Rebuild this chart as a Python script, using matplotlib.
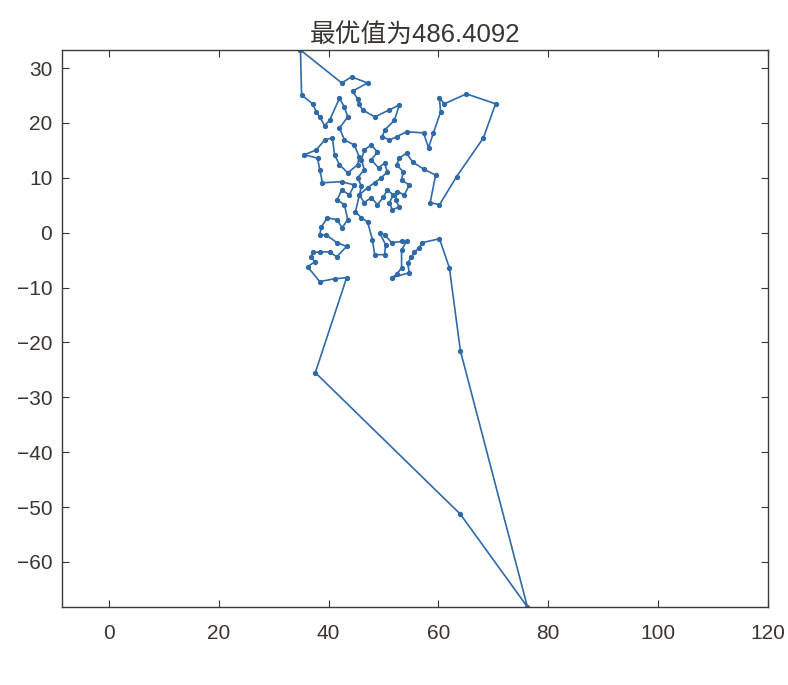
import numpy as np
import matplotlib.pyplot as plt

plt.rcParams['font.family'] = ['Liberation Sans', 'Noto Sans CJK SC', 'DejaVu Sans']
plt.rcParams['axes.unicode_minus'] = True

# best tour found, city coordinates in visiting order
tourX = [34.9, 42.4, 44.2, 47.1, 44.4, 45.3, 45.5, 46.2, 48.4, 51.1, 52.9, 52.0, 50.2, 49.8, 51.1,
         52.4, 54.2, 57.3, 58.2, 59.1, 60.4, 60.2, 61.1, 65.1, 70.4, 68.2, 63.3, 60.2, 58.5, 59.5,
         57.3, 55.3, 54.2, 52.9, 52.4, 53.6, 53.3, 54.7, 53.8, 52.5, 52.2, 52.9, 51.6, 51.1, 51.8,
         50.7, 50.0, 48.9, 47.8, 46.5, 45.6, 47.1, 48.4, 49.6, 50.7, 50.2, 49.1, 47.8, 48.9, 47.8,
         46.5, 46.0, 46.5, 45.3, 46.0, 44.9, 46.0, 47.1, 48.0, 48.4, 50.2, 50.4, 49.3, 50.2, 51.5,
         53.3, 54.2, 53.3, 53.3, 52.4, 51.5, 54.7, 54.4, 55.1, 55.6, 56.5, 57.1, 60.2, 62.0, 64.0,
         76.2, 64.0, 37.6, 43.3, 41.1, 38.4, 36.2, 37.5, 36.9, 37.1, 38.4, 40.2, 41.5, 43.3, 41.5,
         39.6, 38.4, 38.7, 39.8, 41.5, 42.5, 43.5, 42.9, 41.6, 42.4, 43.8, 44.7, 42.4, 38.9, 38.4,
         38.0, 35.6, 37.8, 39.3, 40.7, 41.1, 42.0, 43.5, 45.3, 45.6, 44.7, 42.9, 42.0, 43.5, 42.9,
         42.0, 40.2, 39.3, 38.4, 37.8, 37.1, 35.1]
tourY = [33.3, 27.3, 28.4, 27.3, 25.8, 24.4, 23.5, 22.4, 21.1, 22.4, 23.3, 20.5, 18.7, 17.5, 16.9,
         17.5, 18.4, 18.2, 15.5, 18.2, 22.0, 24.5, 23.5, 25.3, 23.5, 17.3, 10.2, 5.1, 5.5, 10.5,
         11.6, 12.9, 14.5, 13.6, 12.4, 11.1, 9.6, 8.7, 6.9, 7.5, 6.0, 4.7, 4.2, 5.5, 6.9,
         7.8, 6.5, 5.1, 6.4, 5.5, 6.9, 8.2, 9.1, 10.0, 11.1, 12.7, 11.8, 13.3, 14.7, 16.0,
         15.1, 13.3, 11.5, 10.0, 8.5, 3.8, 2.7, 2.0, -1.3, -4.0, -4.0, -2.2, 0.0, -0.4, -1.8,
         -1.6, -1.6, -3.1, -6.4, -7.6, -8.2, -7.3, -5.5, -4.5, -3.6, -2.7, -1.8, -1.1, -6.4, -21.5,
         -68.2, -51.3, -25.5, -8.2, -8.4, -8.9, -6.2, -5.3, -4.5, -3.6, -3.5, -3.5, -4.4, -2.5, -1.8,
         -0.4, -0.4, 1.1, 2.7, 2.4, 0.9, 2.4, 5.1, 6.0, 7.8, 6.9, 8.7, 9.3, 9.1, 11.5,
         13.6, 14.2, 15.1, 16.9, 17.3, 14.2, 12.4, 10.9, 12.4, 13.8, 16.0, 16.9, 19.1, 21.1, 22.9,
         24.5, 20.5, 19.5, 21.1, 22.0, 23.5, 25.1]
bestDistance = 486.4092

xTicks = [0, 20, 40, 60, 80, 100, 120]
yTicks = [-60, -50, -40, -30, -20, -10, 0, 10, 20, 30]

textColor = '#3b3530'

fig = plt.figure(figsize=(7.88, 6.85), dpi=100)
ax = fig.add_axes([0.0787, 0.114, 0.896, 0.813])

# close the loop back to the start city
x = np.append(tourX, tourX[0])
y = np.append(tourY, tourY[0])
ax.plot(x, y, color='#2f6aa8', linewidth=1.2, marker='o', markersize=2.8)

ax.set_xlim(-8.5, 120)
ax.set_ylim(min(tourY), max(tourY))
ax.set_xticks(xTicks)
ax.set_yticks(yTicks)
ax.tick_params(direction='in', top=True, right=True, length=5, labelsize=15,
               colors=textColor)
ax.tick_params(axis='x', pad=12)
ax.tick_params(axis='y', pad=7)
for s in ax.spines.values():
    s.set_color('#3b3b3b')
    s.set_linewidth(1.0)
ax.set_title('最优值为' + str(bestDistance), fontsize=18.5, color=textColor, pad=6)

fig.savefig('out.png', dpi=100)
